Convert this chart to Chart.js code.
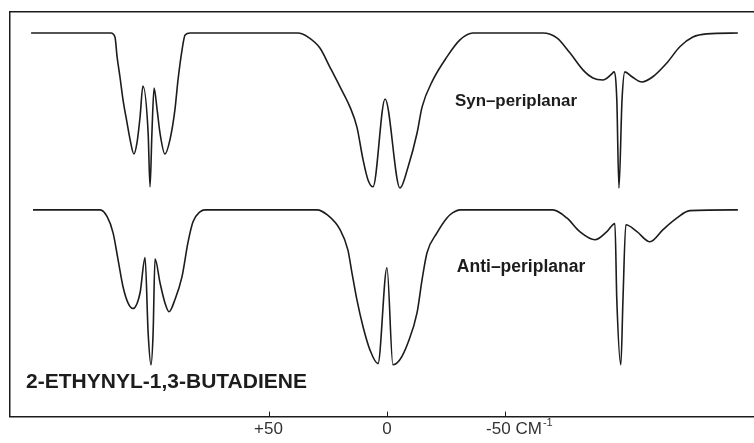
<!DOCTYPE html>
<html>
<head>
<meta charset="utf-8">
<script src="https://cdn.jsdelivr.net/npm/chart.js@4/dist/chart.umd.min.js"></script>
<style>
  html, body { margin: 0; padding: 0; background: #fff; }
  canvas { display: block; }
</style>
</head>
<body>
<canvas id="grafica" width="754" height="443"></canvas>
<script>
// wavenumber offset in cm-1 (positive to the left), trace signal in arbitrary units
const synX = [150.2, 116.5, 114.8, 113.9, 112.7, 111.4, 109.7, 108.4, 106.8, 105.5, 104.2, 103.0,
  100.8, 100.0, 99.2, 98.3, 97.0, 95.8, 93.7, 91.6, 89.5, 88.2, 86.5, 85.2, 83.1,
  37.6, 33.3, 28.3, 24.1, 19.8, 15.6, 12.7, 10.1, 8.0, 5.9, 0.8, -5.5, -8.9, -12.7, -14.8,
  -19.4, -25.3, -30.8, -36.3,
  -65.8, -71.7, -77.2, -82.7, -86.9, -91.1, -94.9, -95.8, -97.0, -97.9, -99.2, -100.4,
  -103.4, -107.6, -112.2, -118.1, -123.6, -129.1, -135.0, -148.1]
const synY = [94.8, 94.8, 93.8, 88.9, 84.0, 78.3, 72.6, 68.4, 64.9, 67.7, 74.1, 81.7,
  70.1, 56.8, 70.1, 81.2, 75.8, 70.1, 64.9, 68.4, 75.8, 83.2, 90.6, 94.3, 94.8,
  94.8, 93.8, 91.1, 86.4, 81.5, 76.5, 71.6, 63.5, 58.5, 56.8, 78.5, 56.5, 61.7, 70.1, 76.5,
  83.2, 88.9, 93.1, 94.8,
  94.8, 93.6, 89.9, 85.7, 83.7, 83.2, 84.7, 85.2, 78.3, 56.5, 78.3, 85.2,
  84.0, 82.7, 84.0, 87.4, 91.4, 93.8, 94.6, 94.8]

const antiX = [149.4, 121.1, 118.1, 115.6, 113.5, 111.4, 109.3, 107.2, 104.2, 102.1,
  100.8, 99.6, 98.7, 97.9, 95.8, 93.7, 92.0, 89.5, 86.5, 84.0, 81.9, 78.9, 76.8,
  29.5, 25.3, 19.8, 16.5, 14.8, 12.7, 10.1, 7.2, 3.8, 0.0, -2.5, -5.5, -8.9, -12.7, -14.8,
  -16.9, -21.1, -25.3, -27.8, -30.8,
  -70.0, -75.9, -81.4, -87.8, -92.8, -96.2, -97.0, -98.7, -99.6, -100.8,
  -105.5, -111.0, -116.5, -122.4, -127.8, -148.1]
const antiY = [51.1, 51.1, 49.4, 45.4, 38.8, 32.1, 28.1, 26.7, 30.6, 39.3,
  20.7, 12.8, 20.7, 39.0, 33.1, 28.1, 25.9, 28.9, 34.6, 43.0, 48.1, 50.6, 51.1,
  51.1, 49.9, 46.2, 41.2, 35.6, 28.9, 22.2, 16.5, 13.1, 36.8, 12.8, 14.1, 18.3, 25.7, 33.8,
  40.5, 45.4, 49.1, 50.4, 51.1,
  51.1, 49.1, 45.7, 43.7, 45.7, 47.7, 28.9, 12.8, 28.9, 47.4,
  45.7, 43.2, 46.2, 49.1, 50.9, 51.1]

const tickValues = [50, 0, -50]
const tickLabels = ['+50', '0', '-50']
const unitLabel = 'CM'
const unitPower = '-1'
const compoundLabel = '2-ETHYNYL-1,3-BUTADIENE'
const synLabel = 'Syn\u2013periplanar'
const antiLabel = 'Anti\u2013periplanar'

const ink = '#1c1c1c'
const xMin = -154.9
const xMax = 159.1

function fitText(ctx, text, left, mid, width, weight, family) {
  ctx.font = weight + ' 20px ' + family
  const size = 20 * width / ctx.measureText(text).width
  ctx.font = weight + ' ' + size.toFixed(1) + 'px ' + family
  ctx.textBaseline = 'middle'
  ctx.textAlign = 'left'
  ctx.fillText(text, left, mid)
}

const decor = {
  id: 'decor',
  afterDraw(chart) {
    const ctx = chart.ctx
    const x = chart.scales.x
    const y = chart.scales.y
    ctx.save()
    // short tick marks standing up from the base line
    ctx.strokeStyle = ink
    ctx.lineWidth = 1
    tickValues.forEach(v => {
      const px = Math.round(x.getPixelForValue(v)) + 0.5
      ctx.beginPath()
      ctx.moveTo(px, y.bottom)
      ctx.lineTo(px, y.bottom - 5)
      ctx.stroke()
    })
    ctx.fillStyle = ink
    fitText(ctx, synLabel, x.getPixelForValue(-28.7), y.getPixelForValue(78.0), 122, 'bold', '"Liberation Sans", sans-serif')
    fitText(ctx, antiLabel, x.getPixelForValue(-29.5), y.getPixelForValue(37.0), 128, 'bold', '"Liberation Sans", sans-serif')
    fitText(ctx, compoundLabel, x.getPixelForValue(152.3), y.getPixelForValue(8.6), 281, 'bold', '"Liberation Sans", sans-serif')
    // unit after the -50 label
    ctx.fillStyle = '#333'
    ctx.font = '17px "Liberation Sans", sans-serif'
    ctx.textBaseline = 'middle'
    ctx.textAlign = 'left'
    const ux = x.getPixelForValue(-50) + 10
    ctx.fillText(unitLabel, ux, 429)
    const cmW = ctx.measureText(unitLabel).width
    ctx.font = '11px "Liberation Sans", sans-serif'
    ctx.fillText(unitPower, ux + cmW + 1, 423)
    ctx.restore()
  }
}

const graph = document.querySelector('#grafica')

const data = {
  datasets: [{
    label: 'Syn-periplanar',
    data: synX.map((v, i) => ({ x: v, y: synY[i] })),
    borderColor: ink,
    borderWidth: 1.6,
    pointRadius: 0,
    cubicInterpolationMode: 'monotone',
    fill: false
  }, {
    label: 'Anti-periplanar',
    data: antiX.map((v, i) => ({ x: v, y: antiY[i] })),
    borderColor: ink,
    borderWidth: 1.6,
    pointRadius: 0,
    cubicInterpolationMode: 'monotone',
    fill: false
  }]
}

const config = {
  type: 'line',
  data: data,
  options: {
    responsive: false,
    animation: false,
    devicePixelRatio: 1,
    layout: { padding: { left: 10, top: 12, right: 0, bottom: 0 } },
    plugins: { legend: { display: false }, tooltip: { enabled: false } },
    scales: {
      x: {
        type: 'linear',
        position: 'bottom',
        reverse: true,
        min: xMin,
        max: xMax,
        afterBuildTicks: scale => { scale.ticks = tickValues.map(v => ({ value: v })) },
        ticks: {
          autoSkip: false,
          maxRotation: 0,
          padding: 3,
          color: '#333',
          font: { family: '"Liberation Sans", sans-serif', size: 17 },
          // the -50 label sits a little left of its tick, to leave room for the unit
          callback: value => tickLabels[tickValues.indexOf(value)] + (value < 0 ? '   ' : '')
        },
        grid: { display: false, drawTicks: false },
        border: { display: true, color: ink, width: 1.5 }
      },
      xTop: {
        type: 'linear',
        position: 'top',
        reverse: true,
        min: xMin,
        max: xMax,
        display: true,
        ticks: { display: false },
        grid: { display: false, drawTicks: false },
        border: { display: true, color: ink, width: 1.5 }
      },
      y: {
        min: 0,
        max: 100,
        display: true,
        ticks: { display: false },
        grid: { display: false, drawTicks: false },
        border: { display: true, color: ink, width: 1.5 }
      }
    }
  },
  plugins: [decor]
}

new Chart(graph, config)
</script>
</body>
</html>
